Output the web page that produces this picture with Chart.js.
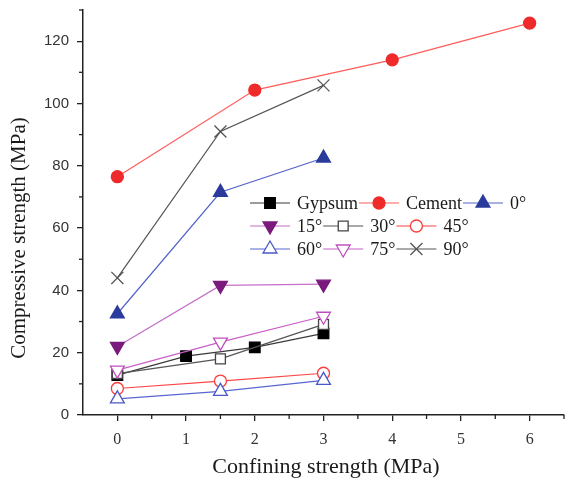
<!DOCTYPE html>
<html>
<head>
<meta charset="utf-8">
<script src="https://cdn.jsdelivr.net/npm/chart.js@4.4.1/dist/chart.umd.min.js"></script>
<style>
html,body{margin:0;padding:0;background:#fff;}
#wrap{width:566px;height:480px;}
</style>
</head>
<body>
<div id="wrap"><canvas id="c" width="566" height="480"></canvas></div>
<script>
// ---- data ----
const seriesNames = ["Gypsum","Cement","0°","15°","30°","45°","60°","75°","90°"];
const gypsumX = [0, 1, 2, 3];
const gypsumY = [12.8, 18.9, 21.7, 26.2];
const cementX = [0, 2, 4, 6];
const cementY = [76.5, 104.3, 114, 125.8];
const angleX = [0, 1.5, 3];
const deg0Y  = [32.5, 71.5, 82.5];
const deg15Y = [22, 41.6, 42];
const deg30Y = [13.3, 18.0, 29.1];
const deg45Y = [8.5, 10.9, 13.4];
const deg60Y = [5.2, 7.6, 11.1];
const deg75Y = [14.4, 23.4, 31.7];
const deg90Y = [44, 91, 105.8];
const xTickValues = [0, 1, 2, 3, 4, 5, 6];
const yTickValues = [0, 20, 40, 60, 80, 100, 120];
const xTitle = "Confining strength (MPa)";
const yTitle = "Compressive strength (MPa)";

function pts(xs, ys){ return xs.map((x,i)=>({x:x, y:ys[i]})); }

const styles = [
  {line:'#3a3a3a', border:'#000', fill:'#000', ps:'rect', r:7.5, rot:0},
  {line:'#ff5c5c', border:'#ee2a2a', fill:'#ee2a2a', ps:'circle', r:6, rot:0},
  {line:'#5563c8', border:'#2b3b9c', fill:'#2b3b9c', ps:'triangle', r:8, rot:0},
  {line:'#c46fc8', border:'#7a1a7c', fill:'#7a1a7c', ps:'triangle', r:8, rot:180},
  {line:'#555', border:'#444', fill:'#fff', ps:'rect', r:7, rot:0},
  {line:'#ff4545', border:'#ff3a3a', fill:'#fff', ps:'circle', r:6, rot:0},
  {line:'#5866d0', border:'#4a58c8', fill:'#fff', ps:'triangle', r:8, rot:0},
  {line:'#c860c8', border:'#c050c0', fill:'#fff', ps:'triangle', r:8, rot:180},
  {line:'#555', border:'#555', fill:'#555', ps:'crossRot', r:8.5, rot:0}
];
const dataPts = [
  pts(gypsumX, gypsumY), pts(cementX, cementY),
  pts(angleX, deg0Y), pts(angleX, deg15Y), pts(angleX, deg30Y),
  pts(angleX, deg45Y), pts(angleX, deg60Y), pts(angleX, deg75Y), pts(angleX, deg90Y)
];

const datasets = seriesNames.map((n,i)=>({
  label: n,
  data: dataPts[i],
  borderColor: styles[i].line,
  borderWidth: 1.2,
  pointStyle: styles[i].ps,
  pointRadius: styles[i].r,
  pointRotation: styles[i].rot,
  pointBackgroundColor: styles[i].fill,
  pointBorderColor: styles[i].border,
  pointBorderWidth: 1.3,
  tension: 0,
  clip: false,
  order: 20 - i
}));

const extras = {
  id: 'extras',
  afterDraw(chart){
    const ctx = chart.ctx;
    const xs = chart.scales.x, ys = chart.scales.y;
    const ca = chart.chartArea;
    ctx.save();
    // minor ticks
    ctx.strokeStyle = '#222';
    ctx.lineWidth = 1.3;
    for (let v = 0.5; v <= 6.5; v += 1){
      const p = xs.getPixelForValue(v);
      ctx.beginPath(); ctx.moveTo(p, ca.bottom); ctx.lineTo(p, ca.bottom + 4); ctx.stroke();
    }
    for (let v = 10; v <= 130; v += 20){
      const p = ys.getPixelForValue(v);
      ctx.beginPath(); ctx.moveTo(ca.left, p); ctx.lineTo(ca.left - 4, p); ctx.stroke();
    }
    // axis titles
    ctx.fillStyle = '#1a1a1a';
    ctx.textAlign = 'center';
    ctx.textBaseline = 'middle';
    ctx.font = '22px "Liberation Serif", "Times New Roman", serif';
    ctx.fillText(xTitle, 326, 467);
    ctx.font = '21px "Liberation Serif", "Times New Roman", serif';
    ctx.save();
    ctx.translate(19, 238);
    ctx.rotate(-Math.PI/2);
    ctx.fillText(yTitle, 0, 0);
    ctx.restore();
    // legend
    ctx.font = '18px "Liberation Serif", "Times New Roman", serif';
    ctx.textAlign = 'left';
    const rows = [[0,1,2],[3,4,5],[6,7,8]];
    const rowY = [203, 226, 249];
    const startX = 250;
    rows.forEach((row, ri)=>{
      let x = startX;
      const y = rowY[ri];
      row.forEach(i=>{
        const st = styles[i];
        ctx.strokeStyle = st.line;
        ctx.lineWidth = 1.2;
        ctx.beginPath(); ctx.moveTo(x, y); ctx.lineTo(x + 40, y); ctx.stroke();
        ctx.fillStyle = st.fill;
        ctx.strokeStyle = st.border;
        ctx.lineWidth = 1.3;
        Chart.helpers.drawPoint(ctx, {pointStyle: st.ps, radius: st.r, rotation: st.rot, borderWidth: 1.3}, x + 20, y);
        ctx.fillStyle = '#1a1a1a';
        ctx.fillText(seriesNames[i], x + 47, y + 1);
        x += 47 + ctx.measureText(seriesNames[i]).width + 1;
      });
    });
    ctx.restore();
  }
};

new Chart(document.getElementById('c'), {
  type: 'line',
  data: { datasets },
  options: {
    responsive: false,
    animation: false,
    devicePixelRatio: 1,
    layout: { autoPadding: false, padding: { top: 10, right: 2, left: 1, bottom: 0 } },
    plugins: { legend: { display: false }, tooltip: { enabled: false } },
    scales: {
      x: {
        type: 'linear',
        min: -0.5, max: 6.5,
        afterBuildTicks: s => { s.ticks = xTickValues.map(v=>({value:v})); },
        afterFit: s => { s.height = 65; s.paddingLeft = 0; s.paddingRight = 0; },
        grid: { drawOnChartArea: false, drawTicks: true, tickLength: 6, color: '#222', lineWidth: 1.3 },
        border: { display: true, color: '#222', width: 1.5 },
        ticks: { color: '#333', padding: 9, maxRotation: 0, autoSkip: false,
          font: { family: '"Liberation Serif", "Times New Roman", serif', size: 16 } }
      },
      y: {
        type: 'linear',
        min: 0, max: 130,
        afterBuildTicks: s => { s.ticks = yTickValues.map(v=>({value:v})); },
        afterFit: s => { s.width = 82; s.paddingTop = 0; s.paddingBottom = 0; },
        grid: { drawOnChartArea: false, drawTicks: true, tickLength: 6, color: '#222', lineWidth: 1.3 },
        border: { display: true, color: '#222', width: 1.5 },
        ticks: { color: '#333', padding: 8, autoSkip: false,
          font: { family: '"Liberation Sans", Arial, sans-serif', size: 15 } }
      }
    }
  },
  plugins: [extras]
});
</script>
</body>
</html>
